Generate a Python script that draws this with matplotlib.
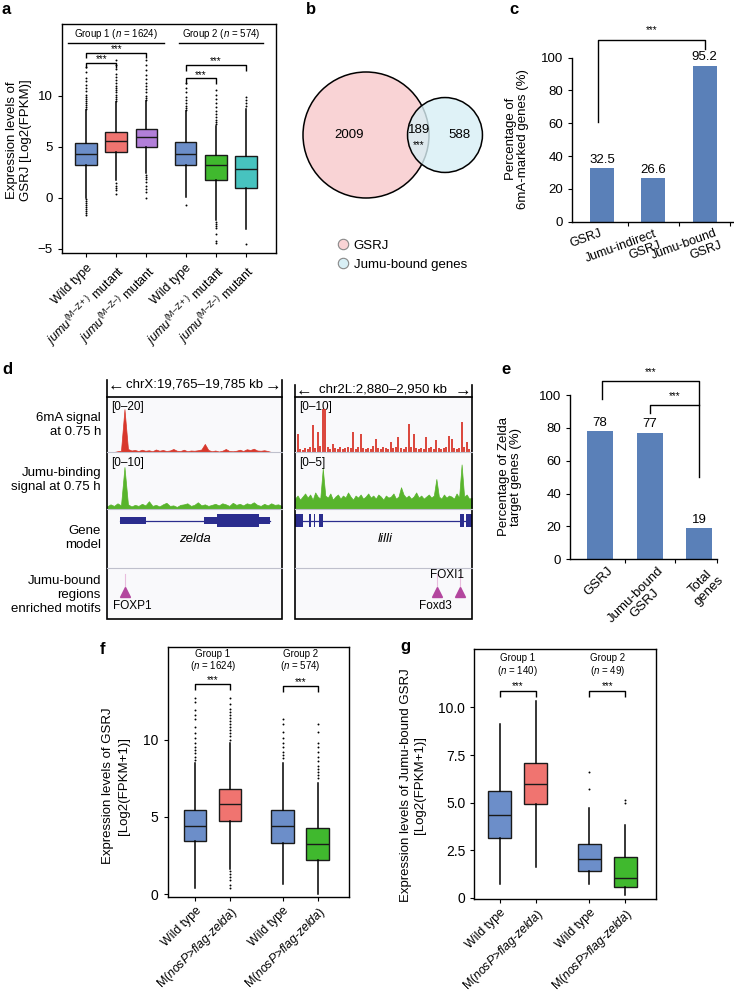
import matplotlib
matplotlib.use('Agg')
import matplotlib.pyplot as plt
import numpy as np
from matplotlib.patches import Circle, Rectangle
from matplotlib.lines import Line2D
import matplotlib.transforms as mtransforms

plt.rcParams['font.family'] = ['Liberation Sans', 'DejaVu Sans']
plt.rcParams['mathtext.fontset'] = 'custom'
plt.rcParams['mathtext.rm'] = 'Liberation Sans'
plt.rcParams['mathtext.it'] = 'Liberation Sans:italic'
plt.rcParams['mathtext.bf'] = 'Liberation Sans:bold'
plt.rcParams['axes.linewidth'] = 1.0

# ---------------- DATA ----------------
# Panel a
a_labels = ['Wild type', r'$jumu^{\rm (M–Z+)}$ mutant', r'$jumu^{\rm (M–Z–)}$ mutant',
            'Wild type', r'$jumu^{\rm (M–Z+)}$ mutant', r'$jumu^{\rm (M–Z–)}$ mutant']
a_q1 = [3.17, 4.48, 4.97, 3.17, 1.76, 0.95]
a_med = [4.30, 5.56, 5.90, 4.30, 3.23, 2.80]
a_q3 = [5.36, 6.44, 6.70, 5.42, 4.20, 4.05]
a_whislo = [0.0, 1.7, 2.4, 0.1, -2.2, -3.1]
a_whishi = [8.6, 9.4, 9.5, 8.5, 7.0, 8.7]
a_fliers = [
    [8.7, 8.9, 9.1, 9.3, 9.5, 9.7, 9.9, 10.1, 10.4, 10.7, 11.0, 11.4, 11.7, 12.3, 12.8,
     -0.1, -0.3, -0.5, -0.7, -0.9, -1.1, -1.3, -1.5, -1.7],
    [9.5, 9.7, 9.9, 10.1, 10.3, 10.5, 10.7, 10.9, 11.2, 11.5, 11.8, 12.1, 12.6, 13.0, 13.5,
     1.4, 1.2, 1.0, 0.8, 0.4],
    [9.6, 9.8, 10.0, 10.3, 10.6, 10.9, 11.2, 11.6, 12.0, 12.5, 13.0, 13.5,
     2.2, 2.0, 1.8, 1.5, 1.2, 0.9, 0.6, 0.0],
    [8.6, 8.8, 9.0, 9.3, 9.6, 9.9, 10.3, 10.7, 11.2, -0.7],
    [7.2, 7.4, 7.6, 7.9, 8.2, 8.5, 8.9, 9.3, 9.7, 10.1, 10.5,
     -2.4, -2.6, -2.8, -3.0, -3.5, -4.2, -4.4],
    [9.0, 9.3, 9.6, 9.9, -4.5],
]
a_groups = [r'Group 1 ($\it{n}$ = 1624)', r'Group 2 ($\it{n}$ = 574)']

# Panel b
b_only_gsrj = 2009
b_overlap = 189
b_only_jumu = 588
b_legend = ['GSRJ', 'Jumu-bound genes']

# Panel c
c_categories = ['GSRJ', 'Jumu-indirect\nGSRJ', 'Jumu-bound\nGSRJ']
c_values = [32.5, 26.6, 95.2]

# Panel d
d_left_region = (19765, 19785)
d_right_region = (2880, 2950)
d_left_6ma = [0, 0, 0, 0.3, 0.5, 17, 1.2, 0.6, 0.8, 0.4, 0.9, 0.5, 0.7, 0.3, 1.0, 0.5, 0.8,
              0.4, 0.6, 1.2, 0.5, 0.4, 0.9, 0.3, 0.6, 0.5, 0.7, 1.0, 3.2, 0.8, 0.3, 0.6, 0.2,
              0.5, 1.2, 0.4, 0.3, 0.5, 0.9, 0.4, 1.1, 0.8, 1.3, 0.6, 0.5, 0.7, 0.4, 0, 0, 0, 0]
d_left_jumu = [0.5, 0.9, 0.6, 1.1, 0.7, 8.1, 0.9, 0.5, 0.8, 0.6, 1.0, 0.7, 1.5, 0.6, 0.8, 0.5,
               0.9, 1.2, 0.6, 0.7, 0.4, 0.8, 0.9, 1.1, 0.6, 0.8, 1.3, 0.7, 0.9, 0.6, 0.8, 1.0,
               0.7, 1.1, 0.9, 0.6, 1.2, 0.8, 1.0, 0.7, 1.1, 0.9, 1.3, 0.8, 0.6, 1.0, 0.7, 1.1,
               0.8, 0.9, 0.6]
d_right_6ma = [0.3, 3.5, 0.5, 0.4, 0.8, 0.6, 1.0, 5.3, 0.7, 3.9, 1.2, 8.6, 8.6, 0.9, 0.6, 1.6,
               0.7, 0.5, 0.9, 0.6, 0.8, 1.0, 0.7, 3.9, 0.6, 0.9, 3.5, 0.7, 0.5, 0.8, 0.6, 1.1,
               2.6, 0.7, 0.5, 0.9, 0.8, 0.6, 2.0, 0.7, 0.9, 2.9, 0.8, 0.6, 1.0, 5.5, 0.9, 3.5,
               0.7, 0.5, 0.8, 0.6, 2.9, 0.7, 0.9, 0.6, 2.3, 0.8, 0.5, 0.7, 0.9, 3.2, 2.5, 0.7,
               0.6, 0.8, 5.9, 0.9, 2.0, 0.6, 0.4]
d_right_jumu = [1.0, 1.3, 0.9, 1.2, 1.5, 1.1, 1.4, 0.9, 1.6, 1.2, 1.0, 3.9, 1.3, 1.1, 1.5, 0.9,
                1.2, 1.4, 1.0, 1.3, 1.1, 1.6, 1.2, 0.9, 1.3, 1.1, 1.4, 1.0, 1.2, 1.5, 1.1, 1.3,
                1.0, 1.4, 1.2, 0.9, 1.3, 1.1, 1.2, 1.5, 1.0, 1.2, 2.1, 1.4, 1.1, 1.3, 1.0, 1.2,
                1.6, 1.1, 1.3, 1.0, 1.2, 1.4, 1.1, 1.3, 2.9, 1.2, 1.0, 1.4, 1.1, 1.3, 1.2, 1.0,
                1.5, 1.1, 4.3, 1.2, 1.4, 1.0, 1.1]
d_left_scale = ['[0–20]', '[0–10]']
d_right_scale = ['[0–10]', '[0–5]']
d_zelda_exons = [(19766.5, 19769.5, 'utr'), (19776.1, 19777.6, 'utr'),
                 (19777.6, 19782.4, 'cds'), (19782.4, 19783.7, 'utr')]
d_lilli_exons = [(2880.0, 2883.3, 'cds'), (2885.5, 2886.2, 'cds'), (2887.6, 2888.0, 'cds'),
                 (2889.6, 2891.2, 'cds'), (2945.4, 2947.1, 'cds'), (2947.7, 2950.0, 'cds')]
d_left_motifs = [(19767.05, 'FOXP1')]
d_right_motifs = [(2936.4, 'Foxd3'), (2945.4, 'FOXI1')]
d_track_labels = ['6mA signal\nat 0.75 h', 'Jumu-binding\nsignal at 0.75 h', 'Gene\nmodel',
                  'Jumu-bound\nregions\nenriched motifs']

# Panel e
e_categories = ['GSRJ', 'Jumu-bound\nGSRJ', 'Total\ngenes']
e_values = [78, 77, 19]

# Panel f
fg_labels = ['Wild type', r'M($\it{nosP}$>$\it{flag}$-$\it{zelda}$)',
             'Wild type', r'M($\it{nosP}$>$\it{flag}$-$\it{zelda}$)']
f_q1 = [3.43, 4.74, 3.34, 2.24]
f_med = [4.40, 5.86, 4.40, 3.23]
f_q3 = [5.47, 6.77, 5.47, 4.25]
f_whislo = [0.43, 1.66, 0.69, 0.04]
f_whishi = [8.45, 9.8, 8.5, 7.2]
f_fliers = [
    [8.7, 8.9, 9.1, 9.3, 9.5, 9.8, 10.1, 10.4, 10.8, 11.3, 11.6, 11.9, 12.4, 12.7],
    [10.0, 10.2, 10.4, 10.6, 10.8, 11.0, 11.2, 11.4, 11.6, 11.8, 12.0, 12.3, 12.7,
     1.5, 1.3, 1.1, 0.9, 0.6, 0.4],
    [8.8, 9.0, 9.2, 9.5, 9.8, 10.1, 10.5, 11.0, 11.3],
    [7.5, 7.7, 7.9, 8.1, 8.3, 8.6, 8.9, 9.2, 9.5, 9.8, 10.5, 11.0],
]
f_groups = [('Group 1', r'($\it{n}$ = 1624)'), ('Group 2', r'($\it{n}$ = 574)')]

# Panel g
g_q1 = [3.12, 4.91, 1.40, 0.55]
g_med = [4.33, 5.99, 2.02, 1.02]
g_q3 = [5.61, 7.09, 2.82, 2.12]
g_whislo = [0.72, 1.63, 0.72, 0.13]
g_whishi = [9.13, 10.35, 4.73, 3.82]
g_fliers = [[], [], [5.71, 6.59], [5.0, 5.13]]
g_groups = [('Group 1', r'($\it{n}$ = 140)'), ('Group 2', r'($\it{n}$ = 49)')]

BLUE = '#6C8EC9'
RED = '#F07470'
PURPLE = '#B27FD9'
GREEN = '#40B92E'
TEAL = '#47C3BF'
BAR = '#5A80B8'

# ---------------- FIGURE ----------------
W, H = 734, 994
fig = plt.figure(figsize=(W / 100, H / 100), dpi=100)


def px_axes(x0, y0, x1, y1, **kw):
    return fig.add_axes([x0 / W, 1 - y1 / H, (x1 - x0) / W, (y1 - y0) / H], **kw)


def ftext(x, y, s, **kw):
    return fig.text(x / W, 1 - y / H, s, **kw)


def fline(xs, ys, **kw):
    fig.add_artist(Line2D([x / W for x in xs], [1 - y / H for y in ys],
                          transform=fig.transFigure, **kw))


def bracket(ax, x1, x2, y, drop, text_y, fs=7, lw=1.0):
    ax.plot([x1, x1, x2, x2], [y - drop, y, y, y - drop], color='k', lw=lw,
            clip_on=False, solid_capstyle='butt')
    ax.text((x1 + x2) / 2, text_y, '***', ha='center', va='center', fontsize=fs,
            clip_on=False)


def boxes(ax, pos, q1, med, q3, lo, hi, fl, colors, width, lw=1.0):
    stats = []
    for i in range(len(pos)):
        stats.append(dict(q1=q1[i], med=med[i], q3=q3[i], whislo=lo[i], whishi=hi[i],
                          fliers=fl[i]))
    bp = ax.bxp(stats, positions=pos, widths=width, patch_artist=True, showcaps=False,
                boxprops=dict(edgecolor='#1a1a1a', linewidth=lw),
                medianprops=dict(color='#1a1a1a', linewidth=lw),
                whiskerprops=dict(color='k', linewidth=1.1),
                flierprops=dict(marker='o', markersize=1.4, markerfacecolor='k',
                                markeredgecolor='none'))
    for patch, c in zip(bp['boxes'], colors):
        patch.set_facecolor(c)
    return bp


# ---- Panel a ----
axa = px_axes(62, 24, 276, 253)
pos_a = [1, 2, 3, 4.3, 5.3, 6.3]
boxes(axa, pos_a, a_q1, a_med, a_q3, a_whislo, a_whishi, a_fliers,
      [BLUE, RED, PURPLE, BLUE, GREEN, TEAL], 0.72)
axa.set_xlim(0.2, 7.3)
axa.set_ylim(-5.4, 17.0)
axa.set_yticks([-5, 0, 5, 10])
axa.set_yticklabels(['−5', '0', '5', '10'], fontsize=9.5)
axa.set_xticks(pos_a)
axa.set_xticklabels(a_labels, rotation=45, ha='right', rotation_mode='anchor', fontsize=9)
axa.tick_params(length=3)
axa.plot([0.4, 3.6], [15.1, 15.1], color='k', lw=1.0)
axa.plot([4.07, 6.87], [15.1, 15.1], color='k', lw=1.0)
axa.text(2.0, 16.05, a_groups[0], ha='center', va='center', fontsize=7)
axa.text(5.47, 16.05, a_groups[1], ha='center', va='center', fontsize=7)
bracket(axa, 1, 3, 14.2, 0.5, 14.55)
bracket(axa, 1, 2, 13.2, 0.5, 13.55)
bracket(axa, 4.3, 6.3, 13.0, 0.55, 13.35)
bracket(axa, 4.3, 5.3, 11.7, 0.55, 12.05)
ftext(19, 140, 'Expression levels of\nGSRJ [Log2(FPKM)]', rotation=90, ha='center',
      va='center', fontsize=9.5, linespacing=1.15)

# ---- Panel b ----
axb = px_axes(290, 40, 500, 300)
axb.set_xlim(290, 500)
axb.set_ylim(300, 40)
axb.axis('off')
k = 63 / np.sqrt(b_only_gsrj + b_overlap)
r_big = k * np.sqrt(b_only_gsrj + b_overlap)
r_small = k * np.sqrt(b_only_jumu + b_overlap)
cx_big, cx_small, cy = 366, 445, 135
axb.add_patch(Circle((cx_big, cy), r_big, facecolor='#F9D3D5', edgecolor='k', lw=1.1))
axb.add_patch(Circle((cx_small, cy), r_small, facecolor='#D8EFF5', edgecolor='none',
                     alpha=0.8))
axb.add_patch(Circle((cx_small, cy), r_small, facecolor='none', edgecolor='k', lw=1.1))
axb.text(349, 135, f'{b_only_gsrj}', ha='center', va='center', fontsize=9.5)
axb.text(419, 130, f'{b_overlap}', ha='center', va='center', fontsize=9.5)
axb.text(419, 145, '***', ha='center', va='center', fontsize=7)
axb.text(459, 135, f'{b_only_jumu}', ha='center', va='center', fontsize=9.5)
handles = [Line2D([], [], ls='none', marker='o', markersize=7.5, markerfacecolor='#F9D3D5',
                  markeredgecolor='#888888', markeredgewidth=0.8),
           Line2D([], [], ls='none', marker='o', markersize=7.5, markerfacecolor='#D8EFF5',
                  markeredgecolor='#888888', markeredgewidth=0.8)]
fig.legend(handles, b_legend, loc='upper left', bbox_to_anchor=(330 / W, 1 - 233 / H),
           frameon=False, fontsize=9.5, handletextpad=0.3, labelspacing=0.5,
           handlelength=1.0, borderpad=0)


def rotated_labels(ax, xs, labels, xshift, rot, y_axes=-0.03, ma='right', fs=9.5):
    trans = mtransforms.blended_transform_factory(ax.transData, ax.transAxes)
    for x, dx, lab in zip(xs, xshift, labels):
        ax.text(x + dx, y_axes, lab, transform=trans, rotation=rot, ha='right', va='top',
                rotation_mode='anchor', fontsize=fs, multialignment=ma, linespacing=1.0)


# ---- Panel c ----
axc = px_axes(572, 57.7, 733, 221.7)
xc = np.arange(len(c_values))
axc.bar(xc, c_values, width=0.47, color=BAR)
axc.set_xlim(-0.58, 2.55)
axc.set_ylim(0, 100)
axc.set_yticks([0, 20, 40, 60, 80, 100])
axc.tick_params(axis='y', labelsize=9.5, length=3)
axc.set_xticks([0.5, 1.5, 2.5])
axc.set_xticklabels([])
axc.tick_params(axis='x', length=3)
rotated_labels(axc, xc, c_categories, [-0.04, 0.02, 0.2], 20, y_axes=-0.035, fs=9)
for s in ['top', 'right']:
    axc.spines[s].set_visible(False)
for x, v in zip(xc, c_values):
    axc.text(x, v + 1.5, f'{v}', ha='center', va='bottom', fontsize=9.5)
axc.plot([-0.08, -0.08, 2.0, 2.0], [61, 111, 111, 105], color='k', lw=1.0, clip_on=False)
axc.text(0.96, 117, '***', ha='center', va='center', fontsize=7, clip_on=False)
ftext(517, 139, 'Percentage of\n6mA-marked genes (%)', rotation=90, ha='center',
      va='center', fontsize=9.5, linespacing=1.0)

# ---- Panel d ----
track_y = [396.5, 452, 509, 568, 619]
panels = [
    (107, 281.7, d_left_region, d_left_6ma, d_left_jumu, d_left_scale, d_zelda_exons,
     'zelda', d_left_motifs, 'chrX:19,765–19,785 kb', 380, [22, 11], ['fill', 'fill']),
    (295, 471.7, d_right_region, d_right_6ma, d_right_jumu, d_right_scale, d_lilli_exons,
     'lilli', d_right_motifs, 'chr2L:2,880–2,950 kb', 385, [11, 5.5], ['lines', 'fill']),
]
for (x0, x1, reg, s6, sj, scl, exons, gname, motifs, header, bar_top, ymaxes,
     styles) in panels:
    for j, (sig, col) in enumerate([(s6, '#D8372B'), (sj, '#58B42C')]):
        axs = px_axes(x0, track_y[j], x1, track_y[j + 1], facecolor='#F9F9FB')
        xs = np.linspace(reg[0], reg[1], len(sig))
        if styles[j] == 'fill':
            axs.fill_between(xs, 0, sig, color=col, lw=0.5, edgecolor=col)
        else:
            axs.vlines(xs, 0, sig, color=col, lw=1.3)
        axs.set_xlim(reg)
        axs.set_ylim(0, ymaxes[j])
        axs.set_xticks([])
        axs.set_yticks([])
        for sp in axs.spines.values():
            sp.set_visible(False)
        axs.text(0.025, 0.92, scl[j], transform=axs.transAxes, ha='left', va='top',
                 fontsize=8.5, zorder=0)
    # gene model
    axg = px_axes(x0, track_y[2], x1, track_y[3], facecolor='#F9F9FB')
    axg.set_xlim(reg)
    axg.set_ylim(0, 1)
    gs = min(e[0] for e in exons)
    ge = max(e[1] for e in exons)
    axg.plot([gs, ge], [0.8, 0.8], color='#2B2D8E', lw=0.9)
    for (s, e, kind) in exons:
        h = 0.22 if kind == 'cds' else 0.12
        axg.add_patch(Rectangle((s, 0.8 - h / 2), e - s, h, facecolor='#2B2D8E',
                                edgecolor='none'))
    axg.text((gs + ge) / 2 if gname == 'zelda' else reg[0] + 0.51 * (reg[1] - reg[0]),
             0.5, gname, style='italic', ha='center', va='center', fontsize=9.5)
    axg.set_xticks([])
    axg.set_yticks([])
    for sp in axg.spines.values():
        sp.set_visible(False)
    # motif track
    axm = px_axes(x0, track_y[3], x1, track_y[4], facecolor='#F9F9FB')
    axm.set_xlim(reg)
    axm.set_ylim(0, 1)
    axm.set_xticks([])
    axm.set_yticks([])
    for sp in axm.spines.values():
        sp.set_visible(False)
    for mi, (mx, mname) in enumerate(motifs):
        axm.plot([mx, mx], [0.62, 0.88], color='#E8BDDD', lw=0.8)
        axm.plot([mx], [0.53], marker='^', color='#B3469E', markersize=6.5)
        if mname == 'FOXP1':
            axm.text(mx - 0.07 * (reg[1] - reg[0]), 0.26, mname, ha='left', va='center',
                     fontsize=8.5)
        elif mname == 'Foxd3':
            axm.text(mx - 0.013 * (reg[1] - reg[0]), 0.26, mname, ha='center',
                     va='center', fontsize=8.5)
        else:
            axm.text(mx - 0.075 * (reg[1] - reg[0]), 0.87, mname, ha='center',
                     va='center', fontsize=8.5)
    # frame and separators
    fig.add_artist(Rectangle((x0 / W, 1 - track_y[4] / H), (x1 - x0) / W,
                             (track_y[4] - track_y[0]) / H, transform=fig.transFigure,
                             facecolor='none', edgecolor='k', lw=1.2))
    for ty in track_y[1:4]:
        fline([x0, x1], [ty, ty], color='#BFC0CC', lw=0.8)
    fline([x0, x0], [bar_top, track_y[0]], color='k', lw=1.2)
    fline([x1, x1], [bar_top, track_y[0]], color='k', lw=1.2)
    ftext((x0 + x1) / 2, bar_top + 5, header, ha='center', va='center', fontsize=9.5)
    ftext(x0 + 9, bar_top + 6, '←', ha='center', va='center', fontsize=12)
    ftext(x1 - 9, bar_top + 6, '→', ha='center', va='center', fontsize=12)

label_y = [425, 480, 538, 595]
for ly, lab in zip(label_y, d_track_labels):
    ftext(101, ly, lab, ha='right', va='center', fontsize=9.5, multialignment='right',
          linespacing=1.25)

# ---- Panel e ----
axe = px_axes(570, 395, 717.3, 559.3)
xe = np.arange(len(e_values))
axe.bar(xe, e_values, width=0.52, color=BAR)
axe.set_xlim(-0.6, 2.36)
axe.set_ylim(0, 100)
axe.set_yticks([0, 20, 40, 60, 80, 100])
axe.tick_params(axis='y', labelsize=9.5, length=3)
axe.set_xticks([0.5, 1.5, 2.36])
axe.set_xticklabels([])
axe.tick_params(axis='x', length=3)
rotated_labels(axe, xe, e_categories, [0.14, 0.16, 0.2], 45, y_axes=-0.035, ma='center')
for s in ['top', 'right']:
    axe.spines[s].set_visible(False)
for x, v in zip(xe, e_values):
    axe.text(x, v + 1.5, f'{v}', ha='center', va='bottom', fontsize=9.5)
axe.plot([0.04, 0.04, 2.0, 2.0], [97.4, 108.5, 108.5, 50], color='k', lw=1.0,
         clip_on=False)
axe.plot([1.0, 1.0, 2.0], [89, 94, 94], color='k', lw=1.0, clip_on=False)
axe.text(1.02, 114, '***', ha='center', va='center', fontsize=7, clip_on=False)
axe.text(1.5, 99.4, '***', ha='center', va='center', fontsize=7, clip_on=False)
ftext(510, 477, 'Percentage of Zelda\ntarget genes (%)', rotation=90, ha='center',
      va='center', fontsize=9.5, linespacing=1.05)

# ---- Panel f ----
axf = px_axes(167.7, 646.7, 349.3, 897.3)
pos_fg = [1, 2, 3.5, 4.5]
boxes(axf, pos_fg, f_q1, f_med, f_q3, f_whislo, f_whishi, f_fliers,
      [BLUE, RED, BLUE, GREEN], 0.65)
axf.set_xlim(0.22, 5.4)
axf.set_ylim(-0.2, 16.0)
axf.set_yticks([0, 5, 10])
axf.tick_params(axis='y', labelsize=10, length=3)
axf.set_xticks(pos_fg)
axf.set_xticklabels(fg_labels, rotation=45, ha='right', rotation_mode='anchor', fontsize=8.8)
axf.tick_params(axis='x', length=3, pad=2)
for gx, (g1, g2) in zip([1.5, 4.0], f_groups):
    axf.text(gx, 15.5, g1, ha='center', va='center', fontsize=7)
    axf.text(gx, 14.74, g2, ha='center', va='center', fontsize=7)
bracket(axf, 1, 2, 13.6, 0.4, 13.85)
bracket(axf, 3.5, 4.5, 13.45, 0.4, 13.7)
ftext(116, 786, 'Expression levels of GSRJ\n[Log2(FPKM+1)]', rotation=90, ha='center',
      va='center', fontsize=9.5, linespacing=1.35)

# ---- Panel g ----
axg2 = px_axes(474.3, 649, 656, 899.3)
boxes(axg2, pos_fg, g_q1, g_med, g_q3, g_whislo, g_whishi, g_fliers,
      [BLUE, RED, BLUE, GREEN], 0.65)
axg2.set_xlim(0.29, 5.36)
axg2.set_ylim(-0.08, 13.07)
axg2.set_yticks([0, 2.5, 5.0, 7.5, 10.0])
axg2.set_yticklabels(['0', '2.5', '5.0', '7.5', '10.0'])
axg2.tick_params(axis='y', labelsize=10, length=3)
axg2.set_xticks(pos_fg)
axg2.set_xticklabels(fg_labels, rotation=45, ha='right', rotation_mode='anchor', fontsize=8.8)
axg2.tick_params(axis='x', length=3, pad=2)
for gx, (g1, g2) in zip([1.5, 4.0], g_groups):
    axg2.text(gx, 12.58, g1, ha='center', va='center', fontsize=7)
    axg2.text(gx, 11.93, g2, ha='center', va='center', fontsize=7)
bracket(axg2, 1, 2, 10.88, 0.32, 11.1)
bracket(axg2, 3.5, 4.5, 10.88, 0.32, 11.1)
ftext(413, 785, 'Expression levels of Jumu-bound GSRJ\n[Log2(FPKM+1)]', rotation=90,
      ha='center', va='center', fontsize=9.5, linespacing=1.25)

# ---- panel letters ----
for (lx, ly, lt) in [(2, 9, 'a'), (306, 9, 'b'), (509, 9, 'c'), (2, 369, 'd'),
                     (501, 370, 'e'), (100, 650, 'f'), (400, 646, 'g')]:
    ftext(lx, ly, lt, fontweight='bold', fontsize=12, va='center', ha='left')

fig.savefig('out.png', dpi=100)
